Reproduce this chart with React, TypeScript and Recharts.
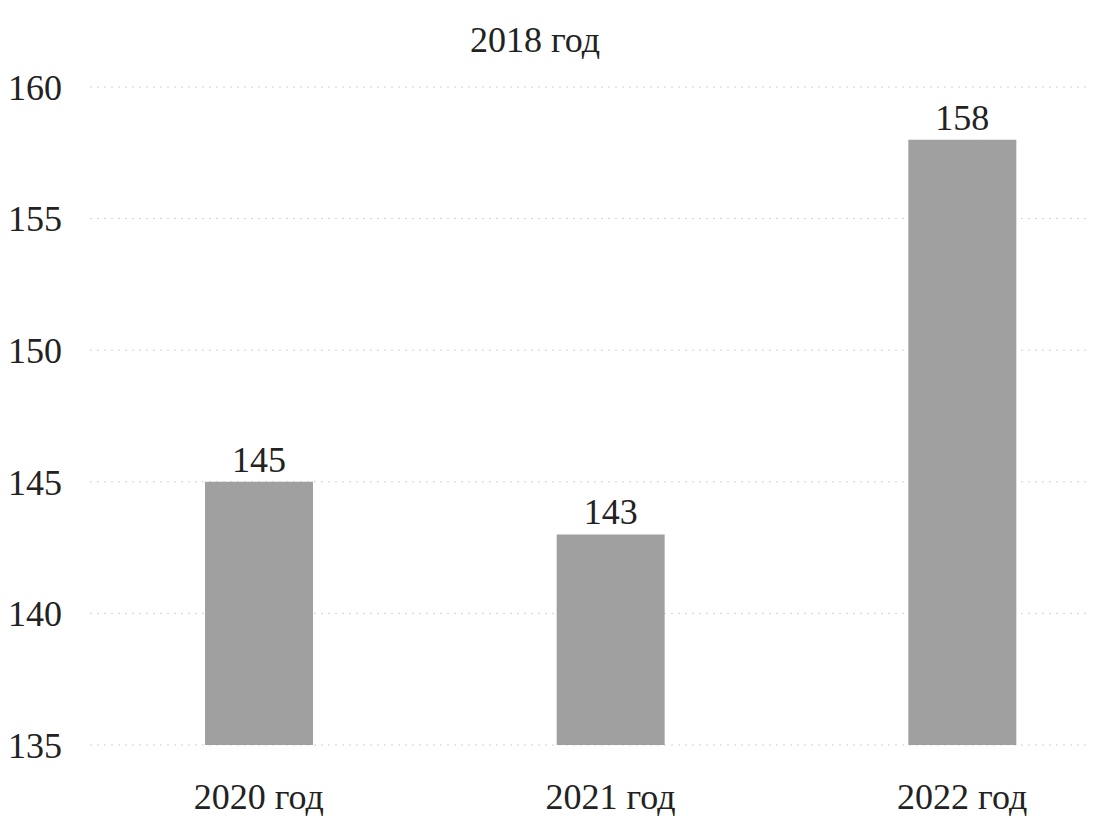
import React from "react";
import { BarChart, Bar, XAxis, YAxis, CartesianGrid, LabelList } from "recharts";

const categories = ["2020 год", "2021 год", "2022 год"];
const values = [145, 143, 158];
const yTicks = [135, 140, 145, 150, 155, 160];
const title = "2018 год";

const data = categories.map((c, i) => ({ name: c, value: values[i] }));

const FONT = "'Liberation Serif', 'Times New Roman', serif";
const FS = 36;

export default function App() {
  return (
    <div style={{ position: "absolute", left: 0, top: 0, width: 1101, height: 819, overflow: "hidden", background: "#fff" }}>
      <div
        style={{
          position: "absolute",
          left: 435,
          width: 200,
          top: 17,
          textAlign: "center",
          fontFamily: FONT,
          fontSize: FS,
          lineHeight: "46px",
          color: "#222",
        }}
      >
        {title}
      </div>
      <BarChart width={1101} height={819} data={data} margin={{ top: 87, right: 11, bottom: 0, left: 0 }}>
        <CartesianGrid vertical={false} stroke="#d0d0d0" strokeDasharray="2 5" />
        <XAxis
          dataKey="name"
          tickLine={false}
          axisLine={false}
          tickSize={0}
          tickMargin={38}
          height={74}
          padding={{ left: -7, right: -48 }}
          tick={{ fontFamily: FONT, fontSize: FS, fill: "#222" }}
        />
        <YAxis
          domain={[135, 160]}
          ticks={yTicks}
          width={90}
          tickLine={false}
          axisLine={false}
          tickSize={0}
          tickMargin={28}
          interval={0}
          tick={{ fontFamily: FONT, fontSize: FS, fill: "#222" }}
        />
        <Bar dataKey="value" fill="#a0a0a0" barSize={108} isAnimationActive={false}>
          <LabelList dataKey="value" position="top" offset={10} style={{ fontFamily: FONT, fontSize: FS, fill: "#222" }} />
        </Bar>
      </BarChart>
    </div>
  );
}
